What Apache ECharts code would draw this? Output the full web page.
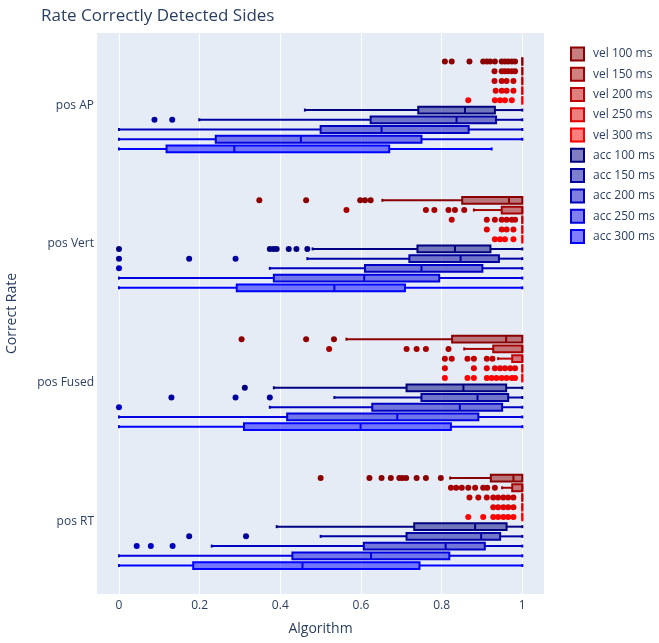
<!DOCTYPE html>
<html><head><meta charset="utf-8">
<script src="https://cdn.jsdelivr.net/npm/echarts@6/dist/echarts.min.js"></script>
<style>html,body{margin:0;padding:0;background:#fff}#c{width:659px;height:643px}</style>
</head><body><div id="c"></div>
<script>
const categories = ['pos AP', 'pos Vert', 'pos Fused', 'pos RT'];
const xTicks = [0, 0.2, 0.4, 0.6, 0.8, 1];
const seriesNames = ['vel 100 ms', 'vel 150 ms', 'vel 200 ms', 'vel 250 ms', 'vel 300 ms',
                     'acc 100 ms', 'acc 150 ms', 'acc 200 ms', 'acc 250 ms', 'acc 300 ms'];
const seriesColors = ['#8B0000', '#A50000', '#C00000', '#E00000', '#FF0000',
                      '#000080', '#0000A0', '#0000C0', '#0000E0', '#0000FF'];

// box stats per category: [lower fence, q1, median, q3, upper fence]
const boxVel100 = [[1, 1, 1, 1, 1], [0.653, 0.851, 0.967, 1, 1], [0.564, 0.826, 0.960, 1, 1], [0.821, 0.922, 0.978, 1, 1]];
const boxVel150 = [[1, 1, 1, 1, 1], [0.880, 0.949, 1, 1, 1], [0.856, 0.928, 1, 1, 1], [0.950, 0.975, 1, 1, 1]];
const boxVel200 = [[1, 1, 1, 1, 1], [1, 1, 1, 1, 1], [0.940, 0.975, 1, 1, 1], [1, 1, 1, 1, 1]];
const boxVel250 = [[1, 1, 1, 1, 1], [1, 1, 1, 1, 1], [1, 1, 1, 1, 1], [1, 1, 1, 1, 1]];
const boxVel300 = [[1, 1, 1, 1, 1], [1, 1, 1, 1, 1], [1, 1, 1, 1, 1], [1, 1, 1, 1, 1]];
const boxAcc100 = [[0.461, 0.742, 0.858, 0.932, 1], [0.480, 0.740, 0.833, 0.921, 1], [0.384, 0.713, 0.854, 0.960, 1], [0.391, 0.732, 0.883, 0.961, 1]];
const boxAcc150 = [[0.199, 0.624, 0.837, 0.935, 1], [0.467, 0.720, 0.847, 0.942, 1], [0.534, 0.750, 0.889, 0.965, 1], [0.500, 0.713, 0.898, 0.945, 1]];
const boxAcc200 = [[0, 0.500, 0.651, 0.867, 1], [0.374, 0.610, 0.750, 0.901, 1], [0.374, 0.628, 0.845, 0.950, 1], [0.230, 0.607, 0.810, 0.907, 1]];
const boxAcc250 = [[0, 0.240, 0.451, 0.750, 1], [0, 0.384, 0.608, 0.794, 1], [0, 0.417, 0.690, 0.891, 1], [0, 0.430, 0.625, 0.819, 1]];
const boxAcc300 = [[0, 0.118, 0.286, 0.670, 0.924], [0, 0.292, 0.534, 0.709, 1], [0, 0.310, 0.599, 0.823, 1], [0, 0.184, 0.455, 0.745, 1]];

// outliers per category
const outVel100 = [[0.808, 0.825, 0.869, 0.903, 0.912, 0.920, 0.932, 0.949, 0.957, 0.965, 0.974, 0.982],
                   [0.348, 0.464, 0.598, 0.610, 0.624], [0.304, 0.464, 0.533],
                   [0.500, 0.621, 0.651, 0.674, 0.695, 0.703, 0.712, 0.738, 0.761, 0.798]];
const outVel150 = [[0.931, 0.949, 0.957, 0.965, 0.974, 0.982], [0.564, 0.761, 0.782, 0.817, 0.833, 0.856],
                   [0.521, 0.713, 0.738, 0.761, 0.817], [0.823, 0.836, 0.850, 0.866, 0.883, 0.903, 0.913, 0.932]];
const outVel200 = [[0.931, 0.949, 0.961, 0.978], [0.825, 0.912, 0.932, 0.949, 0.961, 0.974, 0.982],
                   [0.808, 0.825, 0.864, 0.880, 0.912, 0.926], [0.869, 0.891, 0.912, 0.928, 0.940, 0.953, 0.965, 0.978]];
const outVel250 = [[0.934, 0.949, 0.961, 0.978], [0.912, 0.949, 0.961, 0.978],
                   [0.808, 0.880, 0.912, 0.932, 0.945, 0.957, 0.970, 0.982], [0.928, 0.940, 0.953, 0.965, 0.978]];
const outVel300 = [[0.866, 0.932, 0.945, 0.957, 0.974], [0.932, 0.945, 0.957, 0.978],
                   [0.808, 0.864, 0.880, 0.912, 0.924, 0.936, 0.949, 0.961, 0.974, 0.982],
                   [0.866, 0.903, 0.928, 0.940, 0.953, 0.965, 0.978]];
const outAcc100 = [[], [0, 0.374, 0.383, 0.391, 0.421, 0.440, 0.467], [0.312], []];
const outAcc150 = [[0.088, 0.132], [0, 0.174, 0.289], [0.130, 0.289, 0.374], [0.174, 0.315]];
const outAcc200 = [[], [0], [0], [0.044, 0.079, 0.133]];
const outAcc250 = [[], [], [], []];
const outAcc300 = [[], [], [], []];

const allBoxes = [boxVel100, boxVel150, boxVel200, boxVel250, boxVel300, boxAcc100, boxAcc150, boxAcc200, boxAcc250, boxAcc300];
const allOutliers = [outVel100, outVel150, outVel200, outVel250, outVel300, outAcc100, outAcc150, outAcc200, outAcc250, outAcc300];

const FONT = '"Open Sans", verdana, arial, sans-serif';
const TXT = '#2a3f5f';
const N = seriesNames.length;
const ROW = 0.07;      // fraction of category band per box slot
const BOXFRAC = 0.7;   // box thickness within slot

function rgba(hex, a) {
  const n = parseInt(hex.slice(1), 16);
  return 'rgba(' + ((n >> 16) & 255) + ',' + ((n >> 8) & 255) + ',' + (n & 255) + ',' + a + ')';
}

const series = [];
seriesNames.forEach((name, idx) => {
  const color = seriesColors[idx];
  const boxData = allBoxes[idx].map((b, ci) => [ci].concat(b));
  series.push({
    type: 'custom', name: name, silent: true, z: 2 + idx,
    data: boxData,
    encode: { x: [1, 2, 3, 4, 5], y: 0 },
    renderItem: function (params, api) {
      const cat = api.value(0);
      const unit = Math.abs(api.size([0, 1])[1]);
      const off = (idx - (N - 1) / 2) * ROW * unit;
      const h = ROW * BOXFRAC * unit;
      const pL = api.coord([api.value(1), cat]);
      const p1 = api.coord([api.value(2), cat]);
      const pM = api.coord([api.value(3), cat]);
      const p3 = api.coord([api.value(4), cat]);
      const pH = api.coord([api.value(5), cat]);
      const y = pL[1] + off;
      const ls = { stroke: color, lineWidth: 2, fill: null };
      const children = [];
      if (p1[0] - pL[0] > 0.5) {
        children.push({ type: 'line', shape: { x1: pL[0], y1: y, x2: p1[0], y2: y }, style: ls });
        children.push({ type: 'line', shape: { x1: pL[0], y1: y - 1.5, x2: pL[0], y2: y + 1.5 }, style: { stroke: color, lineWidth: 2 } });
      }
      if (pH[0] - p3[0] > 0.5) {
        children.push({ type: 'line', shape: { x1: p3[0], y1: y, x2: pH[0], y2: y }, style: ls });
        children.push({ type: 'line', shape: { x1: pH[0], y1: y - 1.5, x2: pH[0], y2: y + 1.5 }, style: { stroke: color, lineWidth: 2 } });
      }
      children.push({ type: 'rect', shape: { x: p1[0], y: y - h / 2, width: Math.max(p3[0] - p1[0], 0.01), height: h },
                      style: { fill: rgba(color, 0.5), stroke: color, lineWidth: 2 } });
      children.push({ type: 'line', shape: { x1: pM[0], y1: y - h / 2, x2: pM[0], y2: y + h / 2 }, style: { stroke: color, lineWidth: 2 } });
      return { type: 'group', children: children };
    }
  });
  const outData = [];
  allOutliers[idx].forEach((arr, ci) => arr.forEach(v => outData.push([v, ci])));
  series.push({
    type: 'custom', name: name, silent: true, z: 2 + idx,
    data: outData,
    encode: { x: 0, y: 1 },
    renderItem: function (params, api) {
      const cat = api.value(1);
      const unit = Math.abs(api.size([0, 1])[1]);
      const off = (idx - (N - 1) / 2) * ROW * unit;
      const p = api.coord([api.value(0), cat]);
      return { type: 'circle', shape: { cx: p[0], cy: p[1] + off, r: 3 }, style: { fill: color } };
    }
  });
});

const chart = echarts.init(document.getElementById('c'), null, { renderer: 'canvas' });
chart.setOption({
  animation: false,
  backgroundColor: '#ffffff',
  textStyle: { fontFamily: FONT },
  title: {
    text: 'Rate Correctly Detected Sides', left: 36, top: 3,
    textStyle: { fontFamily: FONT, fontSize: 17, fontWeight: 'normal', color: TXT }
  },
  legend: {
    orient: 'vertical', left: 565, top: 41.5,
    itemWidth: 13, itemHeight: 13, itemGap: 5.27,
    textStyle: { fontFamily: FONT, fontSize: 12, color: TXT, padding: [0, 0, 0, 4] },
    data: seriesNames.map((n, i) => ({
      name: n, icon: 'rect',
      itemStyle: { color: rgba(seriesColors[i], 0.5), borderColor: seriesColors[i], borderWidth: 2 }
    }))
  },
  grid: {
    left: 97, right: 115, top: 33, bottom: 49,
    containLabel: false, outerBoundsMode: 'none',
    show: true, backgroundColor: '#E5ECF6', borderWidth: 0
  },
  xAxis: {
    type: 'value', min: -0.0545, max: 1.0538,
    name: 'Algorithm', nameLocation: 'middle', nameGap: 28,
    nameTextStyle: { fontFamily: FONT, fontSize: 14, color: TXT },
    axisLine: { show: false },
    axisTick: { show: false, customValues: xTicks },
    axisLabel: { customValues: xTicks, fontFamily: FONT, fontSize: 12, color: TXT, margin: 6,
                 formatter: v => String(Math.round(v * 10) / 10) },
    splitLine: { show: true, lineStyle: { color: '#ffffff', width: 1 } }
  },
  yAxis: {
    type: 'value', inverse: true, min: -0.52, max: 3.52,
    name: 'Correct Rate', nameLocation: 'middle', nameGap: 78,
    nameTextStyle: { fontFamily: FONT, fontSize: 14, color: TXT },
    axisLine: { show: false },
    axisTick: { show: false, customValues: [0, 1, 2, 3] },
    axisLabel: { customValues: [0, 1, 2, 3], fontFamily: FONT, fontSize: 12, color: TXT, margin: 3,
                 formatter: v => categories[Math.round(v)] },
    splitLine: { show: false }
  },
  series: series
});
</script>
</body></html>
